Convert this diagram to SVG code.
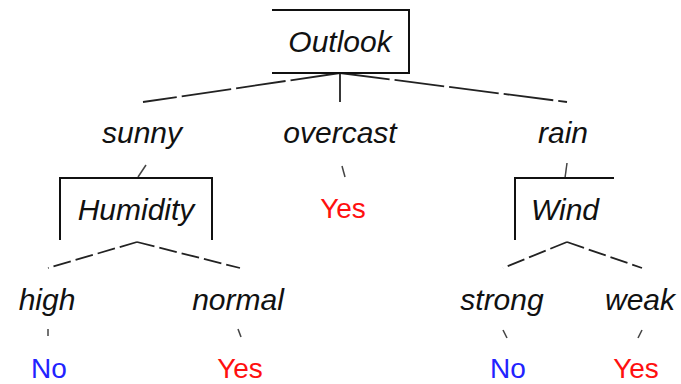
<svg xmlns="http://www.w3.org/2000/svg" width="681" height="384" viewBox="0 0 681 384">
<style>
.lbl{font-family:"Liberation Sans",Arial,sans-serif;font-style:italic;font-size:30px;fill:#111;text-anchor:middle}
.yes{font-family:"Liberation Sans",Arial,sans-serif;font-size:28px;fill:#ff1010;text-anchor:middle}
.no{font-family:"Liberation Sans",Arial,sans-serif;font-size:28px;fill:#2222ff;text-anchor:middle}
.box{fill:none;stroke:#111;stroke-width:2}
.edge{fill:none;stroke:#222;stroke-width:1.8}
.d1{stroke-dasharray:50 5}
.d2{stroke-dasharray:18 5}
.tick{fill:none;stroke:#444;stroke-width:1.5}
</style>
<rect width="681" height="384" fill="#fff"/>
<g id="connectors">
<path class="edge d1" d="M340 73 L143 102"/>
<path class="edge d1" d="M340 73 L567 102"/>
<path class="edge" d="M340 73 L340 102" stroke-width="1.3"/>
<path class="tick" d="M146 165 L138 177"/>
<path class="tick" d="M342 166 L345 177"/>
<path class="tick" d="M567 163 L565 178"/>
<path class="edge d2" d="M137 242 L48 268"/>
<path class="edge d2" d="M137 242 L240 268"/>
<path class="edge d2" d="M567 242 L503 268"/>
<path class="edge d2" d="M567 242 L642 268"/>
<path class="tick" d="M48 329 L48 336"/>
<path class="tick" d="M238 329 L241 337"/>
<path class="tick" d="M503 330 L507 338"/>
<path class="tick" d="M642 330 L638 338"/>
</g>
<g id="outlook">
<path class="box" d="M272 10 H409 V73 H272"/>
<text class="lbl" x="340" y="52">Outlook</text>
</g>
<g id="sunny"><text class="lbl" x="142" y="143">sunny</text></g>
<g id="overcast"><text class="lbl" x="340" y="143">overcast</text></g>
<g id="rain"><text class="lbl" x="563" y="143">rain</text></g>
<g id="humidity">
<path class="box" d="M60 240 V178 H212 V240"/>
<text class="lbl" x="136" y="220">Humidity</text>
</g>
<g id="overcast-yes"><text class="yes" x="343" y="218">Yes</text></g>
<g id="wind">
<path class="box" d="M515 240 V178 H614"/>
<text class="lbl" x="565" y="220">Wind</text>
</g>
<g id="high"><text class="lbl" x="47" y="310">high</text></g>
<g id="normal"><text class="lbl" x="238" y="310">normal</text></g>
<g id="strong"><text class="lbl" x="502" y="310">strong</text></g>
<g id="weak"><text class="lbl" x="640" y="310">weak</text></g>
<g id="high-no"><text class="no" x="49" y="378">No</text></g>
<g id="normal-yes"><text class="yes" x="240" y="378">Yes</text></g>
<g id="strong-no"><text class="no" x="508" y="378">No</text></g>
<g id="weak-yes"><text class="yes" x="636" y="378">Yes</text></g>
</svg>
